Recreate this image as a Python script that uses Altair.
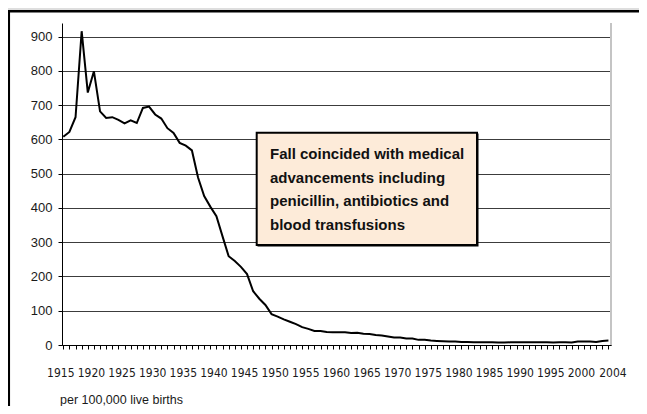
import altair as alt
import pandas as pd

years = list(range(1915, 2005))
rates = [608, 622, 665, 916, 737, 799, 682, 663, 665, 657,
         647, 656, 648, 692, 696, 673, 661, 633, 619, 590,
         582, 568, 489, 435, 404, 376, 317, 259, 245, 228,
         207, 157, 135, 117, 90, 83, 75, 68, 61, 52,
         47, 41, 41, 38, 37, 37, 37, 35, 36, 33,
         32, 29, 28, 25, 22, 22, 19, 19, 15, 15,
         13, 12, 11, 10, 10, 9, 9, 8, 8, 8,
         8, 7, 7, 8, 8, 8, 8, 8, 8, 8,
         7, 8, 8, 7, 10, 10, 10, 9, 12, 13]
y_ticks = [0, 100, 200, 300, 400, 500, 600, 700, 800, 900]
label_years = [1915, 1920, 1925, 1930, 1935, 1940, 1945, 1950, 1955, 1960,
               1965, 1970, 1975, 1980, 1985, 1990, 1995, 2000, 2004]
note_lines = ["Fall coincided with medical",
              "advancements including",
              "penicillin, antibiotics and",
              "blood transfusions"]
axis_note = "per 100,000 live births"

W, H = 549, 322
COND = "DejaVu Sans Condensed, Liberation Sans, sans-serif"
SANS = "Liberation Sans, Arial, sans-serif"

df = pd.DataFrame({"year": years, "rate": rates})
one = pd.DataFrame({"k": [0]})

label_set = ",".join(str(v) for v in label_years)

x_axis = alt.Axis(
    values=years, title=None, grid=False, format="d",
    tickSize=4, tickColor="black", tickWidth=1,
    domainColor="black", domainWidth=1,
    labelExpr=f"indexof([{label_set}], datum.value) >= 0 ? datum.label : ''",
    labelOverlap=False, labelFlush=False,
    labelFont=COND, labelFontSize=12, labelColor="#1a1a1a",
    labelPadding=18,
    labelOffset={"condition": {"test": "datum.value == 2004", "value": 4}, "value": -3},
)
y_axis = alt.Axis(
    values=y_ticks, title=None, grid=True, gridColor="#3c3c3c", gridWidth=1,
    format="d", tickSize=4, tickColor="black", domainColor="black",
    labelFont=SANS, labelFontSize=13, labelColor="#1a1a1a", labelPadding=6,
)

line = alt.Chart(df).mark_line(color="black", strokeWidth=2).encode(
    x=alt.X("year:Q", scale=alt.Scale(domain=[1914.79, 2004.42], nice=False, zero=False), axis=x_axis),
    y=alt.Y("rate:Q", scale=alt.Scale(domain=[0, 940], nice=False), axis=y_axis),
)

gray_strip = alt.Chart(one).mark_rect(color="#dedede").encode(
    x=alt.value(-60), x2=alt.value(W + 40), y=alt.value(-20), y2=alt.value(-13))
top_border = alt.Chart(one).mark_rule(color="black", strokeWidth=2.4).encode(
    x=alt.value(-54.5), x2=alt.value(W + 40), y=alt.value(-11.8))
left_border = alt.Chart(one).mark_rule(color="black", strokeWidth=2.5).encode(
    x=alt.value(-53.2), y=alt.value(-13), y2=alt.value(H + 80))
right_rule = alt.Chart(one).mark_rule(color="#c4c4c4", strokeWidth=2).encode(
    x=alt.value(W), y=alt.value(0), y2=alt.value(H))

shadow = alt.Chart(one).mark_rect(color="black").encode(
    x=alt.value(195.5), x2=alt.value(416.5), y=alt.value(110.5), y2=alt.value(223.5))
box = alt.Chart(one).mark_rect(fill="#FDEBD9", stroke="black", strokeWidth=2).encode(
    x=alt.value(194.7), x2=alt.value(415), y=alt.value(109.7), y2=alt.value(222))
note = alt.Chart(one).mark_text(
    align="left", baseline="alphabetic", font=SANS, fontWeight="bold",
    fontSize=15, lineHeight=23.6, lineBreak="\n", color="#111111",
).encode(x=alt.value(208), y=alt.value(136.3), text=alt.value("\n".join(note_lines)))

sub = alt.Chart(one).mark_text(
    align="left", baseline="alphabetic", font=SANS, fontSize=12.5, color="#1a1a1a",
).encode(x=alt.value(-2), y=alt.value(381), text=alt.value(axis_note))

chart = alt.layer(
    gray_strip, top_border, left_border, line, right_rule, shadow, box, note, sub
).properties(
    width=W, height=H,
    padding={"left": 54, "top": 15, "right": 28, "bottom": 61},
    autosize=alt.AutoSizeParams(type="none"),
    background="white",
).configure_view(stroke=None)

chart.save("out.html", embed_options={"renderer": "svg", "actions": False})
